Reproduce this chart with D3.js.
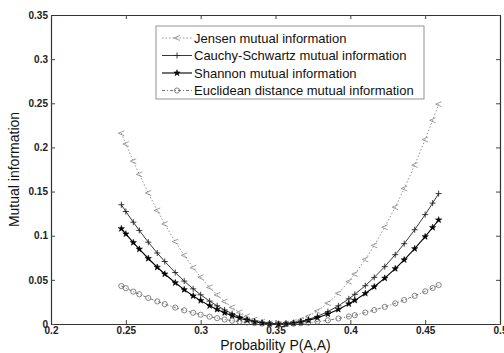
<!DOCTYPE html>
<html>
<head>
<meta charset="utf-8">
<script src="https://cdn.jsdelivr.net/npm/d3@7"></script>
<style>
  body { margin: 0; background: #fff; }
  svg { font-family: "Liberation Sans", Arial, sans-serif; }
</style>
</head>
<body>
<div id="chart"></div>
<script>
// probability values where the curves were sampled
probability = [0.247, 0.250, 0.255, 0.259, 0.265, 0.271, 0.276, 0.283, 0.289, 0.295,
  0.300, 0.306, 0.311, 0.316, 0.321, 0.326, 0.331, 0.336, 0.341, 0.346,
  0.352, 0.357, 0.362, 0.367, 0.372, 0.378, 0.385, 0.392, 0.399, 0.403,
  0.410, 0.416, 0.423, 0.430, 0.436, 0.443, 0.450, 0.455, 0.459]

jensen = [0.2161, 0.2039, 0.1844, 0.1695, 0.1484, 0.1286, 0.1132, 0.0933, 0.0778, 0.0637,
  0.0530, 0.0415, 0.0329, 0.0254, 0.0188, 0.0132, 0.0086, 0.0050, 0.0024, 0.0007,
  0, 0.0005, 0.0022, 0.0049, 0.0087, 0.0147, 0.0237, 0.0348, 0.0480, 0.0566,
  0.0732, 0.0891, 0.1096, 0.1323, 0.1535, 0.1801, 0.2089, 0.2307, 0.2490]

cauchy = [0.1351, 0.1274, 0.1153, 0.1060, 0.0927, 0.0804, 0.0708, 0.0583, 0.0486, 0.0398,
  0.0331, 0.0259, 0.0206, 0.0159, 0.0118, 0.0083, 0.0054, 0.0031, 0.0015, 0.0004,
  0, 0.0003, 0.0013, 0.0029, 0.0052, 0.0087, 0.0140, 0.0206, 0.0285, 0.0336,
  0.0434, 0.0528, 0.0650, 0.0785, 0.0910, 0.1068, 0.1239, 0.1369, 0.1477]

shannon = [0.1080, 0.1020, 0.0922, 0.0848, 0.0742, 0.0643, 0.0566, 0.0467, 0.0389, 0.0318,
  0.0265, 0.0207, 0.0165, 0.0127, 0.0094, 0.0066, 0.0043, 0.0025, 0.0012, 0.0004,
  0, 0.0003, 0.0010, 0.0023, 0.0041, 0.0070, 0.0112, 0.0165, 0.0228, 0.0268,
  0.0346, 0.0422, 0.0519, 0.0627, 0.0727, 0.0853, 0.0989, 0.1093, 0.1179]

euclidean = [0.0430, 0.0406, 0.0367, 0.0337, 0.0295, 0.0256, 0.0225, 0.0186, 0.0155, 0.0127,
  0.0105, 0.0083, 0.0066, 0.0051, 0.0037, 0.0026, 0.0017, 0.0010, 0.0005, 0.0001,
  0, 0.0001, 0.0004, 0.0009, 0.0015, 0.0026, 0.0042, 0.0062, 0.0085, 0.0100,
  0.0130, 0.0158, 0.0194, 0.0234, 0.0272, 0.0319, 0.0370, 0.0408, 0.0441]

seriesNames = ["Jensen mutual information", "Cauchy-Schwartz mutual information",
  "Shannon mutual information", "Euclidean distance mutual information"]

xTicks = [0.2, 0.25, 0.3, 0.35, 0.4, 0.45, 0.5]
yTicks = [0, 0.05, 0.1, 0.15, 0.2, 0.25, 0.3, 0.35]

let series = [
  { name: seriesNames[0], values: jensen, stroke: "#777", width: 0.8, dash: "1.5,2", marker: "tri" },
  { name: seriesNames[1], values: cauchy, stroke: "#222", width: 0.9, dash: null, marker: "plus" },
  { name: seriesNames[2], values: shannon, stroke: "#000", width: 1.1, dash: null, marker: "star" },
  { name: seriesNames[3], values: euclidean, stroke: "#555", width: 0.8, dash: "3,2,1,2", marker: "circle" }
]

margin = { top: 15, right: 4, bottom: 29, left: 51 }
width = 504 - margin.left - margin.right
height = 353 - margin.top - margin.bottom

let svg = d3.select("#chart").append("svg")
  .attr("width", 504)
  .attr("height", 353)

let g = svg.append("g")
  .attr("transform", "translate(" + margin.left + "," + margin.top + ")")

let xScale = d3.scaleLinear().domain([0.2, 0.5]).range([0, width])
let yScale = d3.scaleLinear().domain([0, 0.35]).range([height, 0])

// axes, ticks pointing inward, mirrored on top and right
let fmt = d => d === 0 ? "0" : String(+d.toFixed(2))

let xAxis = g.append("g")
  .attr("transform", "translate(0," + height + ")")
  .call(d3.axisBottom(xScale).tickValues(xTicks).tickFormat(fmt).tickSizeInner(-4).tickSizeOuter(0).tickPadding(4))
let yAxis = g.append("g")
  .call(d3.axisLeft(yScale).tickValues(yTicks).tickFormat(fmt).tickSizeInner(-4).tickSizeOuter(0).tickPadding(3))
g.append("g")
  .call(d3.axisTop(xScale).tickValues(xTicks).tickFormat("").tickSizeInner(-4).tickSizeOuter(0))
g.append("g")
  .attr("transform", "translate(" + width + ",0)")
  .call(d3.axisRight(yScale).tickValues(yTicks).tickFormat("").tickSizeInner(-4).tickSizeOuter(0))

g.selectAll(".domain").attr("stroke", "#333").attr("stroke-width", 1.2)
g.selectAll(".tick line").attr("stroke", "#444")
g.selectAll(".tick text")
  .attr("font-size", "10px")
  .attr("font-weight", "bold")
  .attr("fill", "#222")
  .attr("font-family", "'Liberation Sans', Arial, sans-serif")
xAxis.selectAll(".tick text").attr("dy", "0.6em")

// axis titles
svg.append("text")
  .attr("x", margin.left + width / 2)
  .attr("y", 350)
  .attr("text-anchor", "middle")
  .attr("font-size", "14px")
  .attr("fill", "#111")
  .text("Probability P(A,A)")

svg.append("text")
  .attr("transform", "translate(19," + (margin.top + height / 2) + ") rotate(-90)")
  .attr("text-anchor", "middle")
  .attr("font-size", "14px")
  .attr("fill", "#111")
  .text("Mutual information")

// curves
let line = d3.line()
  .x((d, i) => xScale(probability[i]))
  .y(d => yScale(d))

function drawMarker(sel, type, color) {
  if (type === "tri") {
    sel.append("path")
      .attr("d", "M3,-2.5 L-3,0 L3,2.5")
      .attr("fill", "none").attr("stroke", color).attr("stroke-width", 0.7)
  } else if (type === "plus") {
    sel.append("path")
      .attr("d", "M-3,0 L3,0 M0,-3 L0,3")
      .attr("fill", "none").attr("stroke", color).attr("stroke-width", 0.9)
  } else if (type === "star") {
    sel.append("path")
      .attr("d", d3.symbol().type(d3.symbolStar).size(12)())
      .attr("fill", color).attr("stroke", color).attr("stroke-width", 0.6)
  } else {
    sel.append("circle")
      .attr("r", 2.6)
      .attr("fill", "none").attr("stroke", color).attr("stroke-width", 0.7)
  }
}

series.forEach(function (s) {
  g.append("path")
    .datum(s.values)
    .attr("fill", "none")
    .attr("stroke", s.stroke)
    .attr("stroke-width", s.width)
    .attr("stroke-dasharray", s.dash)
    .attr("d", line)

  let pts = g.selectAll(".pt-" + s.marker)
    .data(s.values)
    .enter().append("g")
    .attr("class", "pt-" + s.marker)
    .attr("transform", (d, i) => "translate(" + xScale(probability[i]) + "," + yScale(d) + ")")
  drawMarker(pts, s.marker, s.stroke)
})

// legend
let legend = svg.append("g").attr("transform", "translate(156,26)")
legend.append("rect")
  .attr("width", 268)
  .attr("height", 73)
  .attr("fill", "#fff")
  .attr("stroke", "#888")
  .attr("stroke-width", 0.9)

series.forEach(function (s, i) {
  let row = legend.append("g").attr("transform", "translate(0," + (12 + i * 17.5) + ")")
  row.append("line")
    .attr("x1", 6).attr("x2", 36)
    .attr("stroke", s.stroke)
    .attr("stroke-width", s.width)
    .attr("stroke-dasharray", s.dash)
  let m = row.append("g").attr("transform", "translate(21,0)")
  drawMarker(m, s.marker, s.stroke)
  row.append("text")
    .attr("x", 38)
    .attr("dy", "0.35em")
    .attr("font-size", "13px")
    .attr("fill", "#111")
    .text(s.name)
})
</script>
</body>
</html>
